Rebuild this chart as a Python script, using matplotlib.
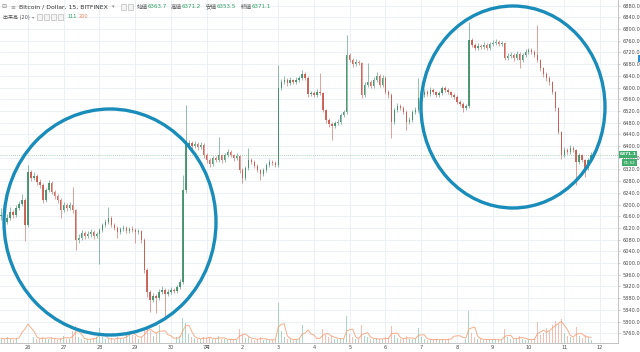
import numpy as np
import pandas as pd
import matplotlib
matplotlib.use("Agg")
import matplotlib.pyplot as plt
import matplotlib.dates as mdates
from matplotlib.patches import Ellipse, Rectangle

plt.rcParams['font.family'] = ['DejaVu Sans', 'Noto Sans CJK JP']

# ---------------- data (2-hour candles) ----------------
first_open = 6160
close = [
    6164, 6140, 6154, 6174, 6164, 6188, 6202, 6215, 6130, 6311,
    6291, 6298, 6277, 6267, 6215, 6250, 6274, 6243, 6229, 6215,
    6181, 6198, 6188, 6198, 6181, 6079, 6086, 6103, 6092, 6099,
    6106, 6092, 6099, 6113, 6130, 6140, 6154, 6130, 6120, 6106,
    6116, 6120, 6109, 6116, 6113, 6106, 6109, 6079, 5976, 5901,
    5873, 5887, 5880, 5901, 5908, 5894, 5901, 5908, 5904, 5918,
    5935, 6250, 6404, 6410, 6400, 6407, 6397, 6404, 6369, 6352,
    6339, 6359, 6352, 6369, 6352, 6369, 6380, 6369, 6359, 6366,
    6318, 6291, 6325, 6352, 6345, 6332, 6318, 6304, 6318, 6335,
    6345, 6342, 6335, 6599, 6619, 6626, 6616, 6626, 6619, 6626,
    6633, 6646, 6633, 6578, 6581, 6575, 6585, 6581, 6523, 6489,
    6475, 6469, 6479, 6482, 6506, 6516, 6711, 6694, 6681, 6687,
    6684, 6575, 6609, 6619, 6605, 6626, 6640, 6609, 6633, 6585,
    6575, 6482, 6523, 6537, 6530, 6516, 6482, 6489, 6516, 6523,
    6564, 6575, 6585, 6578, 6592, 6585, 6575, 6581, 6599, 6592,
    6585, 6575, 6568, 6551, 6544, 6530, 6537, 6763, 6746, 6735,
    6742, 6739, 6746, 6735, 6749, 6752, 6756, 6749, 6752, 6701,
    6708, 6711, 6701, 6715, 6694, 6711, 6722, 6728, 6722, 6711,
    6694, 6667, 6646, 6633, 6619, 6585, 6530, 6448, 6369, 6386,
    6380, 6393, 6386, 6345, 6369, 6352, 6325, 6352, 6371.1,
]
high = [
    6188, 6172, 6166, 6190, 6183, 6197, 6213, 6236, 6222, 6335,
    6318, 6310, 6305, 6286, 6272, 6258, 6285, 6280, 6250, 6236,
    6222, 6207, 6205, 6208, 6260, 6186, 6098, 6112, 6110, 6108,
    6116, 6112, 6107, 6120, 6138, 6150, 6192, 6160, 6137, 6126,
    6124, 6130, 6127, 6123, 6126, 6119, 6117, 6114, 6084, 5982,
    5908, 5899, 5895, 5912, 5920, 5914, 5910, 5917, 5915, 5926,
    5946, 6301, 6540, 6422, 6418, 6416, 6413, 6415, 6409, 6375,
    6358, 6366, 6366, 6431, 6374, 6377, 6391, 6386, 6374, 6375,
    6371, 6324, 6333, 6393, 6360, 6351, 6338, 6323, 6326, 6343,
    6356, 6352, 6348, 6677, 6630, 6638, 6632, 6635, 6631, 6637,
    6641, 6660, 6652, 6638, 6590, 6588, 6594, 6650, 6586, 6528,
    6496, 6482, 6487, 6492, 6514, 6525, 6780, 6718, 6700, 6697,
    6695, 6689, 6618, 6684, 6626, 6635, 6652, 6646, 6642, 6638,
    6592, 6580, 6531, 6546, 6544, 6536, 6522, 6498, 6524, 6533,
    6633, 6584, 6594, 6592, 6601, 6598, 6590, 6589, 6607, 6605,
    6598, 6590, 6581, 6573, 6557, 6550, 6545, 6824, 6770, 6752,
    6751, 6750, 6755, 6752, 6757, 6762, 6765, 6762, 6760, 6757,
    6717, 6720, 6717, 6724, 6720, 6719, 6731, 6737, 6734, 6727,
    6814, 6699, 6672, 6652, 6639, 6624, 6590, 6535, 6452, 6396,
    6393, 6402, 6399, 6391, 6377, 6374, 6357, 6360, 6378,
]
low = [
    6147, 6128, 6133, 6148, 6155, 6158, 6180, 6195, 6075, 6122,
    6282, 6284, 6268, 6255, 6205, 6209, 6244, 6236, 6220, 6206,
    6154, 6174, 6179, 6182, 6172, 6044, 6068, 6080, 6083, 6085,
    6090, 6081, 6086, 5997, 6106, 6124, 6135, 6122, 6112, 6085,
    6100, 6109, 6101, 6102, 6105, 6068, 6098, 6070, 5965, 5885,
    5832, 5866, 5829, 5874, 5893, 5815, 5886, 5895, 5896, 5898,
    5912, 5928, 6240, 6395, 6391, 6393, 6388, 6390, 6360, 6343,
    6330, 6333, 6344, 6346, 6343, 6347, 6362, 6361, 6350, 6353,
    6309, 6274, 6285, 6319, 6337, 6324, 6310, 6284, 6298, 6311,
    6329, 6335, 6327, 6330, 6592, 6612, 6607, 6610, 6611, 6613,
    6620, 6627, 6625, 6569, 6571, 6567, 6569, 6574, 6515, 6480,
    6466, 6421, 6462, 6472, 6476, 6499, 6510, 6686, 6672, 6674,
    6676, 6566, 6569, 6602, 6597, 6599, 6620, 6601, 6603, 6577,
    6566, 6428, 6476, 6517, 6522, 6508, 6455, 6475, 6483, 6510,
    6517, 6557, 6569, 6570, 6572, 6578, 6567, 6569, 6575, 6584,
    6578, 6567, 6560, 6543, 6536, 6517, 6524, 6531, 6738, 6727,
    6729, 6731, 6733, 6727, 6729, 6743, 6746, 6741, 6742, 6693,
    6694, 6702, 6692, 6695, 6667, 6688, 6705, 6716, 6714, 6703,
    6686, 6658, 6637, 6624, 6610, 6577, 6521, 6440, 6355, 6362,
    6372, 6373, 6378, 6267, 6339, 6344, 6294, 6319, 6346,
]
volume = [
    12, 9, 14, 10, 8, 13, 18, 48, 40, 55,
    20, 14, 11, 9, 16, 12, 10, 14, 9, 8,
    12, 18, 10, 9, 30, 42, 15, 10, 8, 11,
    9, 12, 14, 38, 14, 10, 9, 12, 8, 16,
    11, 9, 24, 28, 20, 18, 10, 16, 34, 40,
    30, 18, 26, 44, 20, 28, 14, 12, 10, 14,
    18, 62, 50, 22, 14, 12, 10, 9, 16, 12,
    14, 10, 9, 18, 11, 9, 8, 10, 9, 8,
    34, 22, 12, 16, 9, 8, 10, 14, 8, 9,
    7, 8, 10, 100, 30, 15, 10, 9, 8, 10,
    12, 44, 18, 36, 14, 10, 9, 16, 34, 20,
    14, 18, 10, 9, 12, 11, 68, 22, 14, 10,
    9, 44, 18, 16, 10, 9, 12, 10, 9, 14,
    12, 42, 20, 12, 10, 9, 18, 11, 9, 10,
    38, 14, 10, 8, 9, 8, 10, 7, 9, 8,
    10, 12, 28, 14, 12, 16, 10, 80, 24, 14,
    10, 9, 8, 10, 9, 8, 9, 7, 8, 34,
    14, 10, 9, 12, 18, 10, 8, 9, 8, 10,
    52, 20, 24, 38, 30, 44, 55, 48, 60, 26,
    18, 14, 12, 40, 18, 12, 20, 14, 8,
]
start_time = '2018-06-25 06:00'
price_ticks = list(range(5760, 6881, 40))
day_ticks = pd.date_range('2018-06-26', '2018-07-12', freq='D')
day_labels = ['26', '27', '28', '29', '30', '7月', '2', '3', '4', '5', '6',
              '7', '8', '9', '10', '11', '12']
ohlc_names = ['始値', '高値', '安値', '終値']
ohlc_values = ['6363.7', '6371.2', '6353.5', '6371.1']
title = 'Bitcoin / Dollar, 15, BITFINEX'
vol_title = '出来高 (20)'
vol_last, vol_ma_last = '111', '200'
last_price = 6371.1
countdown = '01:52'

n = len(close)
assert len(high) == n and len(low) == n and len(volume) == n, (len(close), len(high), len(low), len(volume))

# ---------------- figure ----------------
W, H = 640, 352
fig = plt.figure(figsize=(W / 100, H / 100), dpi=100, facecolor='white')

def fx(px):
    return px / W

def fy(py):
    return 1 - py / H

ax = fig.add_axes([0, 9 / H, 618 / W, 343 / H])
ax.set_facecolor('white')

times = pd.date_range(start_time, periods=n, freq='2h')
x = mdates.date2num(times)
c = np.array(close, dtype=float)
o = np.r_[first_open, c[:-1]]
hi = np.array(high, dtype=float)
lo = np.array(low, dtype=float)
up = c >= o

col_up = '#3f8f68'
col_dn = '#c85a4f'
colors = np.where(up, col_up, col_dn)

ax.vlines(x, lo, hi, colors=colors, linewidth=0.5, alpha=0.8, zorder=3)
body_h = np.where(np.abs(c - o) < 2, 2, np.abs(c - o))
body_b = np.minimum(o, c)
ax.bar(x, body_h, bottom=body_b, width=0.45 / 12, color=colors, linewidth=0,
       alpha=0.9, zorder=4)

# last price line
ax.axhline(last_price, color='#8fc4a4', linewidth=0.6, linestyle=(0, (1, 1.5)), zorder=2)

# axes limits
ax.set_xlim(mdates.date2num(pd.Timestamp('2018-06-25 05:13')),
            mdates.date2num(pd.Timestamp('2018-07-12 12:05')))
ax.set_ylim(5726.5, 6899.5)

# grid
ax.set_yticks(price_ticks)
ax.set_yticklabels([f'{p:.1f}' for p in price_ticks])
ax.set_xticks(mdates.date2num(day_ticks))
ax.set_xticklabels(day_labels)
ax.grid(True, color='#e9eff4', linewidth=0.6, zorder=0)
ax.set_axisbelow(True)
ax.yaxis.tick_right()
ax.tick_params(axis='y', labelsize=3.6, labelcolor='#4a4a4a', length=1.5,
               color='#b5b5b5', width=0.5, pad=1.5)
ax.tick_params(axis='x', labelsize=3.6, labelcolor='#4a4a4a', length=0, pad=1.6)
for s in ['top', 'left']:
    ax.spines[s].set_visible(False)
for s in ['right', 'bottom']:
    ax.spines[s].set_color('#b9b9b9')
    ax.spines[s].set_linewidth(0.6)

# volume overlay
axv = fig.add_axes([0, 9 / H, 618 / W, 343 / H], sharex=ax)
axv.patch.set_visible(False)
axv.set_ylim(0, 860)
axv.axis('off')
vcol = np.where(up, '#7cc7a0', '#f29a8a')
axv.bar(x, volume, width=0.3 / 12, color=vcol, alpha=0.65, linewidth=0)
vma = pd.Series(volume, dtype=float).rolling(3, min_periods=1).mean()
axv.plot(x, vma, color='#f59f76', linewidth=0.7, alpha=0.85)

# hand-drawn style circles (in pixel space)
for cx, cy, w, h in [(110, 222, 212, 226), (513, 107, 184, 202)]:
    e = Ellipse((fx(cx), fy(cy)), w / W, h / H, transform=fig.transFigure,
                fill=False, edgecolor='#1a8cba', linewidth=2.4, zorder=10)
    fig.add_artist(e)

# price labels on the axis
fig.add_artist(Rectangle((fx(619), fy(157.5)), 18 / W, 7 / H, transform=fig.transFigure,
                         facecolor='#3fae6c', edgecolor='none', zorder=11))
fig.text(fx(628), fy(154), f'{last_price:.1f}', color='white', fontsize=3.2,
         ha='center', va='center', zorder=12, fontweight='bold')
fig.add_artist(Rectangle((fx(622), fy(166)), 15 / W, 7 / H, transform=fig.transFigure,
                         facecolor='#3fae6c', edgecolor='none', zorder=11))
fig.text(fx(629.5), fy(162.5), countdown, color='white', fontsize=3.0,
         ha='center', va='center', zorder=12)
fig.add_artist(Rectangle((fx(638), fy(62)), 2 / W, 7 / H, transform=fig.transFigure,
                         facecolor='#2a8fd6', edgecolor='none', zorder=11))

# header line 1
y1 = 7
fig.text(fx(1), fy(y1), '⊟', color='#888888', fontsize=4.2, va='center')
fig.text(fx(10), fy(y1), '≡', color='#888888', fontsize=4.2, va='center')
fig.text(fx(19), fy(y1), title, color='#333333', fontsize=4.4, va='center')
fig.text(fx(112), fy(y1), '▾', color='#888888', fontsize=3.5, va='center')
for ix in [121, 128]:
    fig.add_artist(Rectangle((fx(ix), fy(y1 + 3)), 5 / W, 6 / H, transform=fig.transFigure,
                             facecolor='#f3f3f3', edgecolor='#b0b0b0', linewidth=0.4))
for lx, name, val in zip([137, 171, 206, 241], ohlc_names, ohlc_values):
    fig.text(fx(lx), fy(y1), name, color='#555555', fontsize=4.0, va='center')
    fig.text(fx(lx + 11), fy(y1), val, color='#2e9c62', fontsize=4.0, va='center')

# header line 2
y2 = 17
fig.text(fx(3), fy(y2), vol_title, color='#555555', fontsize=3.6, va='center')
fig.text(fx(32), fy(y2), '▾', color='#888888', fontsize=3.2, va='center')
for ix in [37, 44, 51, 58]:
    fig.add_artist(Rectangle((fx(ix), fy(y2 + 3)), 5 / W, 6 / H, transform=fig.transFigure,
                             facecolor='#f3f3f3', edgecolor='#b0b0b0', linewidth=0.4))
fig.text(fx(68), fy(y2), vol_last, color='#2e9c62', fontsize=3.6, va='center')
fig.text(fx(79), fy(y2), vol_ma_last, color='#f0805f', fontsize=3.6, va='center')

fig.savefig('out.png', dpi=100, facecolor='white')
